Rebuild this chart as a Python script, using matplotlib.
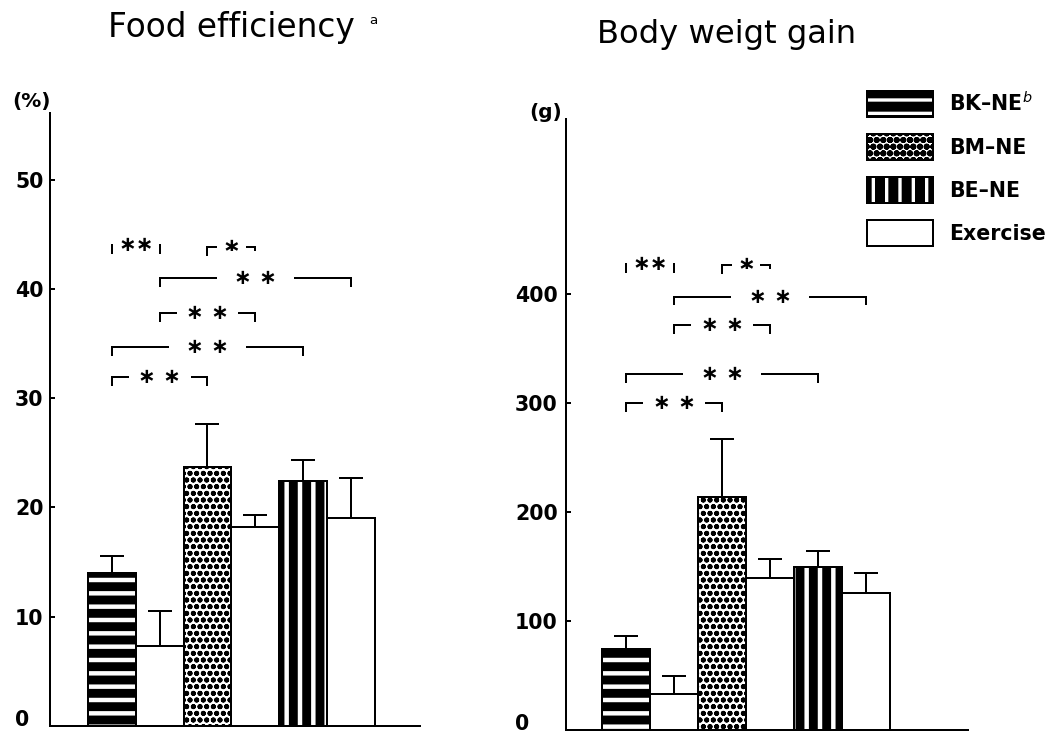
import matplotlib
matplotlib.use('Agg')
import matplotlib.pyplot as plt
import matplotlib.patches as mpatches
import numpy as np

# values (mean, SE shown as upper error bar)
groups = ['BK-NE', 'Exercise', 'BM-NE', 'Exercise', 'BE-NE', 'Exercise']

food_eff_mean = [14.0, 7.3, 23.7, 18.2, 22.4, 19.0]
food_eff_se = [1.6, 3.2, 3.9, 1.1, 1.9, 3.7]

weight_gain_mean = [74, 33, 214, 140, 150, 126]
weight_gain_se = [12, 17, 53, 17, 14, 18]

# significance brackets: pair of bars, bracket height, stars
sig_pairs = [(0, 1), (2, 3), (1, 5), (1, 3), (0, 4), (0, 2)]
sig_labels = ['**', '*', '**', '**', '**', '**']
food_levels = [44.0, 43.8, 41.0, 37.8, 34.7, 31.9]
weight_levels = [428, 427, 398, 372, 327, 300]

food_ticks = [0, 10, 20, 30, 40, 50]
weight_ticks = [0, 100, 200, 300, 400]

legend_keys = ['BK-NE', 'BM-NE', 'BE-NE', 'Exercise']
legend_labels = ['BK\u2013NE$^{b}$', 'BM\u2013NE', 'BE\u2013NE', 'Exercise']

DPI = 80
LW = 1.8
plt.rcParams['font.family'] = 'DejaVu Sans'
plt.rcParams['mathtext.fontset'] = 'custom'
plt.rcParams['mathtext.rm'] = 'DejaVu Sans'
plt.rcParams['mathtext.it'] = 'DejaVu Sans:italic'
plt.rcParams['hatch.linewidth'] = 3.0

STYLES = {
    'BK-NE': dict(face='black', hatch='-', hcolor='white', hlw=4.0),
    'BM-NE': dict(face='white', hatch='oo..', hcolor='black', hlw=2.1),
    'BE-NE': dict(face='black', hatch='|', hcolor='white', hlw=4.0),
    'Exercise': dict(face='white', hatch=None, hcolor='white', hlw=1.0),
}


def styled(patch, key):
    if hasattr(patch, 'set_hatch_linewidth'):
        patch.set_hatch_linewidth(STYLES[key]['hlw'])


def draw_panel(ax, means, ses, levels, ticks, ylim, xlim, tick_pad, unit, unit_off):
    x = np.arange(len(means))
    for xi, m, key in zip(x, means, groups):
        st = STYLES[key]
        fill = ax.bar(xi, m, width=1.0, align='edge', color=st['face'],
                      edgecolor=st['hcolor'], hatch=st['hatch'], linewidth=0, zorder=3)
        for p in fill:
            styled(p, key)
        ax.bar(xi, m, width=1.0, align='edge', fill=False, edgecolor='black',
               linewidth=LW, zorder=3.5)
    ax.errorbar(x + 0.5, means, yerr=[np.zeros(len(ses)), ses], fmt='none',
                ecolor='black', elinewidth=LW, capsize=11, capthick=LW, zorder=4)

    # significance brackets
    drop = 0.013 * ylim[1]
    for (a, b), lev, lab in zip(sig_pairs, levels, sig_labels):
        xa, xb = a + 0.5, b + 0.5
        ax.plot([xa, xa, xb, xb], [lev - drop, lev, lev, lev - drop],
                color='black', lw=LW, zorder=5, solid_joinstyle='miter')
        span = b - a
        txt = ('\u2217' * len(lab)) if span == 1 else ' '.join('\u2217' * len(lab))
        ax.text((xa + xb) / 2, lev, txt, ha='center', va='center', fontsize=19,
                fontweight='bold', zorder=6,
                bbox=dict(facecolor='white', edgecolor='none', pad=1.5 + 3.5 * span))

    ax.set_xlim(*xlim)
    ax.set_ylim(*ylim)
    ax.set_yticks(ticks)
    ax.set_yticklabels([str(t) for t in ticks])
    ax.set_xticks([])
    for s in ['top', 'right']:
        ax.spines[s].set_visible(False)
    for s in ['left', 'bottom']:
        ax.spines[s].set_linewidth(LW)
    ax.tick_params(axis='y', direction='in', length=4.5, width=LW, pad=tick_pad,
                   labelsize=18.5)
    for lab in ax.get_yticklabels():
        lab.set_fontweight('bold')
        lab.set_horizontalalignment('left')
    ax.get_yticklabels()[0].set_verticalalignment('baseline')
    ax.annotate(unit, xy=(0, 1), xycoords='axes fraction', xytext=unit_off,
                textcoords='offset pixels', ha='center', va='center',
                fontsize=18, fontweight='bold')
    ax.set_facecolor('none')


fig = plt.figure(figsize=(1050 / DPI, 735 / DPI), dpi=DPI)
ax1 = fig.add_axes([50 / 1050, 9 / 735, 370 / 1050, 613 / 735])
ax2 = fig.add_axes([566 / 1050, 5 / 735, 402 / 1050, 611 / 735])

draw_panel(ax1, food_eff_mean, food_eff_se, food_levels, food_ticks,
           (0, 56.1), (-0.795, 6.946), 31.5, '(%)', (-18, 12))
draw_panel(ax2, weight_gain_mean, weight_gain_se, weight_levels, weight_ticks,
           (0, 561), (-0.75, 7.625), 46, '(g)', (-20, 7))

fig.text(231 / 1050, 1 - 37 / 735, 'Food efficiency', ha='center', va='baseline',
         fontsize=29.5)
fig.text(373 / 1050, 1 - 20 / 735, 'a', ha='center', va='center', fontsize=12)
fig.text(727 / 1050, 1 - 43 / 735, 'Body weigt gain', ha='center', va='baseline',
         fontsize=29)

# legend with hatched proxies (fill + black outline)
handles = []
for key in legend_keys:
    st = STYLES[key]
    f = mpatches.Rectangle((0, 0), 1, 1, facecolor=st['face'], edgecolor=st['hcolor'],
                           hatch=st['hatch'], linewidth=0)
    styled(f, key)
    o = mpatches.Rectangle((0, 0), 1, 1, fill=False, edgecolor='black', linewidth=LW)
    handles.append((f, o))
leg = fig.legend(handles, legend_labels, loc='upper left',
                 bbox_to_anchor=(867 / 1050, 1 - 91 / 735), frameon=False,
                 borderpad=0, borderaxespad=0, handlelength=3.2, handleheight=1.6,
                 labelspacing=0.8, handletextpad=0.8,
                 prop=dict(size=18.5, weight='bold'))

fig.savefig('out.png', dpi=DPI, facecolor='white')
